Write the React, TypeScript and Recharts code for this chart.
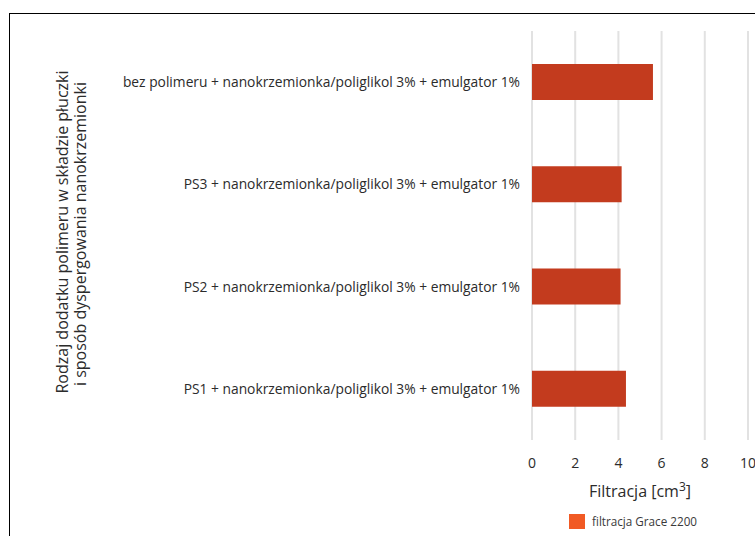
import { BarChart, Bar, XAxis, YAxis, CartesianGrid, Legend, Label } from "recharts";

// kategorie (od góry) i wartości filtracji [cm3]
const categories: string[] = [
  "bez polimeru + nanokrzemionka/poliglikol 3% + emulgator 1%",
  "PS3 + nanokrzemionka/poliglikol 3% + emulgator 1%",
  "PS2 + nanokrzemionka/poliglikol 3% + emulgator 1%",
  "PS1 + nanokrzemionka/poliglikol 3% + emulgator 1%",
];
const filtracja: number[] = [5.6, 4.15, 4.1, 4.35];
const xTicks: number[] = [0, 2, 4, 6, 8, 10];
const seriesName = "filtracja Grace 2200";

const data = categories.map((name, i) => ({ name, value: filtracja[i] }));

const FONT = "'Open Sans', sans-serif";
const TEXT = "#2b2b2b";

const YTitle = () => (
  <g fontFamily={FONT} fontSize={16} fill={TEXT}>
    <text x={52} y={218} textAnchor="middle" dominantBaseline="central" transform="rotate(-90, 52, 218)">
      Rodzaj dodatku polimeru w składzie płuczki
    </text>
    <text x={70} y={220} textAnchor="middle" dominantBaseline="central" transform="rotate(-90, 70, 220)">
      i sposób dyspergowania nanokrzemionki
    </text>
  </g>
);

const XTitle = () => (
  <text x={630} y={483} textAnchor="middle" fontFamily={FONT} fontSize={16} fill={TEXT}>
    Filtracja [cm
    <tspan dy={-6} fontSize={12}>3</tspan>
    <tspan dy={6}>]</tspan>
  </text>
);

const LegendBox = () => (
  <div style={{ display: "flex", alignItems: "center", fontFamily: FONT, fontSize: 11.7, color: "#3a3a3a" }}>
    <span style={{ width: 16, height: 15, background: "#F15A24", display: "inline-block", marginRight: 7 }} />
    {seriesName}
  </div>
);

export default function App() {
  return (
    <>
      <style>{"body { margin: 0; overflow: hidden; }"}</style>
      <div style={{ width: 755, height: 536, overflow: "hidden", position: "relative" }}>
        <div
          style={{
            position: "absolute",
            left: 9,
            top: 13,
            width: 800,
            height: 600,
            border: "1px solid #000",
            background: "#fff",
          }}
        >
          <BarChart
            width={760}
            height={530}
            data={data}
            layout="vertical"
            barSize={36}
            margin={{ top: 17, right: 22, left: 0, bottom: 74 }}
          >
            <CartesianGrid horizontal={false} stroke="#E2E2E2" strokeWidth={2} />
            <XAxis
              type="number"
              domain={[0, 10]}
              ticks={xTicks}
              interval={0}
              axisLine={false}
              tickLine={false}
              tickMargin={12}
              height={30}
              tick={{ fontFamily: FONT, fontSize: 14, fill: TEXT }}
            >
              <Label content={XTitle} />
            </XAxis>
            <YAxis
              type="category"
              dataKey="name"
              width={522}
              axisLine={false}
              tickLine={false}
              tickMargin={6}
              tick={{ fontFamily: FONT, fontSize: 13.8, fill: TEXT }}
            >
              <Label content={YTitle} />
            </YAxis>
            <Legend
              layout="horizontal"
              verticalAlign="middle"
              align="center"
              content={LegendBox}
              wrapperStyle={{ left: 559, top: 499, width: 200 }}
            />
            <Bar dataKey="value" name={seriesName} fill="#C33B1E" isAnimationActive={false} />
          </BarChart>
        </div>
      </div>
    </>
  );
}
